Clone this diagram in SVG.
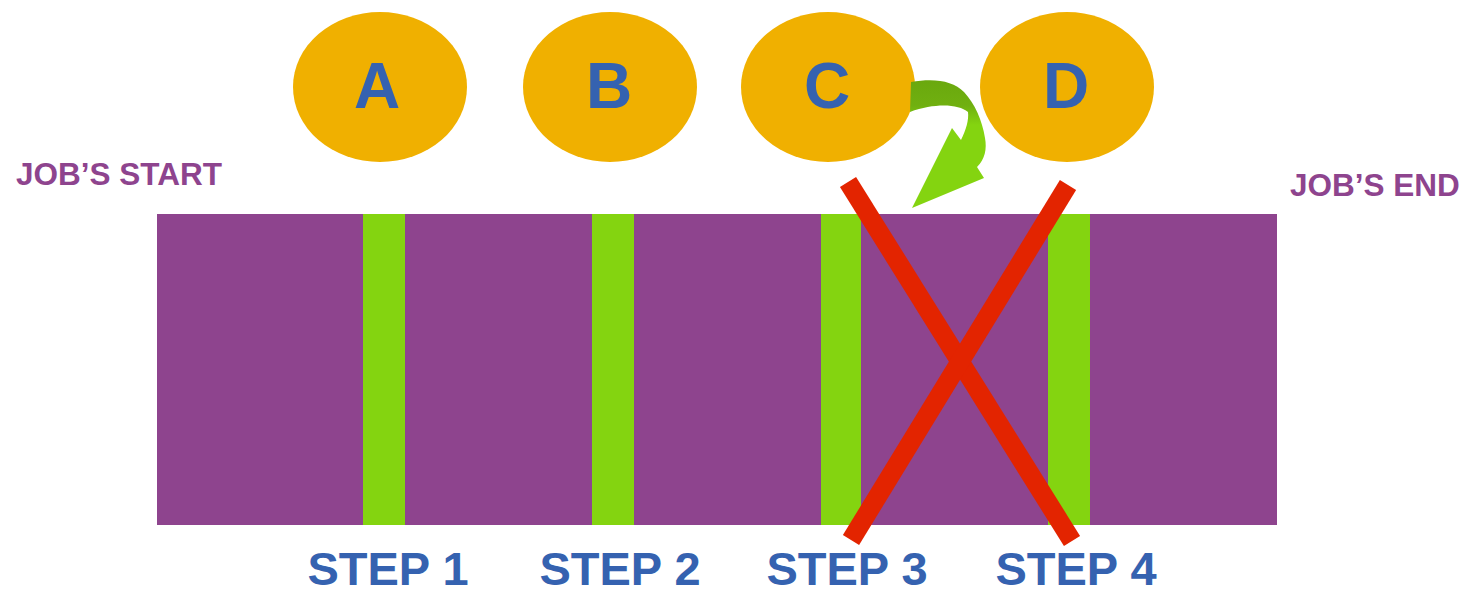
<svg xmlns="http://www.w3.org/2000/svg" width="1463" height="589" viewBox="0 0 1463 589">
<style>
.node ellipse{fill:#F0B000}
.lbl{font-family:"Liberation Sans",Arial,sans-serif;font-weight:bold;fill:#3562B0;text-anchor:middle}
.big{font-size:64px}
.step{font-size:47px}
.job{font-family:"Liberation Sans",Arial,sans-serif;font-weight:bold;font-size:31.5px;fill:#8E448E}
.stripe{fill:#84D410}
.x{stroke:#E32400;stroke-width:19;stroke-linecap:butt}
</style>
<defs>
<linearGradient id="ag" x1="0" y1="0" x2="0" y2="1" gradientUnits="objectBoundingBox">
<stop offset="0" stop-color="#6AA80E"/>
<stop offset="0.2" stop-color="#70B010"/>
<stop offset="0.35" stop-color="#84D410"/>
<stop offset="1" stop-color="#84D410"/>
</linearGradient>
</defs>
<rect width="1463" height="589" fill="#fff"/>
<g id="bar">
<rect x="157" y="214" width="1120" height="311" fill="#8E448E"/>
<rect class="stripe" x="363" y="214" width="42" height="311"/>
<rect class="stripe" x="592" y="214" width="42" height="311"/>
<rect class="stripe" x="821" y="214" width="40" height="311"/>
<rect class="stripe" x="1048" y="214" width="42" height="311"/>
</g>
<g id="nodeA" class="node"><ellipse cx="380" cy="87" rx="87" ry="75"/><text class="lbl big" x="377" y="108">A</text></g>
<g id="nodeB" class="node"><ellipse cx="610" cy="87" rx="87" ry="75"/><text class="lbl big" x="609" y="108">B</text></g>
<g id="nodeC" class="node"><ellipse cx="828" cy="87" rx="87" ry="75"/><text class="lbl big" x="827" y="108">C</text></g>
<g id="nodeD" class="node"><ellipse cx="1067" cy="87" rx="87" ry="75"/><text class="lbl big" x="1066" y="108">D</text></g>
<g id="connectors">
<path d="M911 82 C935 78 953 81 964 92 C975 104 982 120 985 138 C987 149 985 159 977 167 L984 178 L912 208 L952 128 L961 140 C966 130 969 120 968 112 C958 104 935 103 910 112 Z" fill="url(#ag)"/>
</g>
<g id="cross">
<line class="x" x1="848" y1="182" x2="1072" y2="541"/>
<line class="x" x1="1068" y1="185" x2="851" y2="540"/>
</g>
<g id="labels">
<text class="job" x="16" y="185">JOB’S START</text>
<text class="job" x="1290" y="196">JOB’S END</text>
<text class="lbl step" x="388" y="585">STEP 1</text>
<text class="lbl step" x="620" y="585">STEP 2</text>
<text class="lbl step" x="847" y="585">STEP 3</text>
<text class="lbl step" x="1076" y="585">STEP 4</text>
</g>
</svg>
